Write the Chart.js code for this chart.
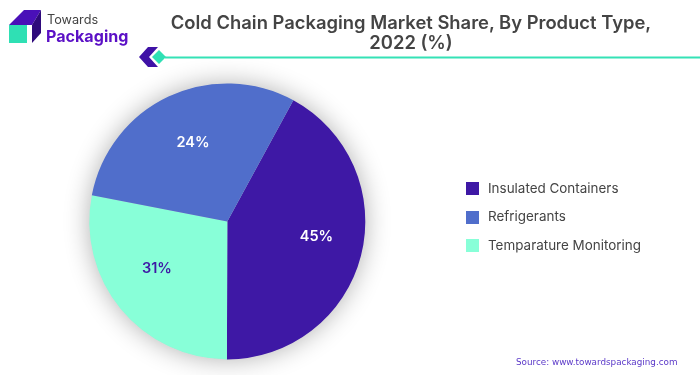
<!DOCTYPE html>
<html>
<head>
<meta charset="utf-8">
<script src="https://cdn.jsdelivr.net/npm/chart.js@4"></script>
<style>
html,body{margin:0;padding:0;background:#fff;width:700px;height:375px;overflow:hidden;font-family:Inter,sans-serif}
#wrap{position:relative;width:700px;height:375px}
canvas{position:absolute;left:0;top:0}
.t{position:absolute;white-space:nowrap}
#title{left:161px;width:500px;top:12px;text-align:center;font-weight:600;font-size:18.4px;line-height:20px;color:#444}
.leg{position:absolute;left:488px;font-size:13.45px;line-height:16px;color:#444;white-space:nowrap}
.sw{position:absolute;left:466px;width:13px;height:13px}
#source{left:516px;top:356px;font-family:"DejaVu Sans",sans-serif;font-size:8.8px;line-height:12px;color:#5a38c8}
#brand1{left:47px;top:12px;font-size:12.7px;line-height:16px;color:#444}
#brand2{left:46px;top:25px;font-size:16.1px;line-height:22px;font-weight:700;color:#5b10c6}
svg{position:absolute;left:0;top:0}
</style>
</head>
<body>
<div id="wrap">
<canvas id="c" width="700" height="375"></canvas>
<svg width="700" height="80" viewBox="0 0 700 80">
  <polygon points="9,25 24,10 41,10 32,25" fill="#4a10b8"/>
  <polygon points="32,25 41,10 41,33 32,43" fill="#2f0a7c"/>
  <rect x="9" y="25" width="18" height="18" fill="#2fe0b4"/>
  <polygon points="139,57 148,47 158,47 149,57 158,67 148,67" fill="#3f12a6"/>
  <polygon points="152,57 159,50 166,57 159,64" fill="#2fe0b4"/>
  <rect x="165" y="56.5" width="535" height="2" fill="#35e2b6"/>
</svg>
<div class="t" id="brand1">Towards</div>
<div class="t" id="brand2">Packaging</div>
<div class="t" id="title">Cold Chain Packaging Market Share, By Product Type,<br>2022 (%)</div>
<div id="legend"></div>
<div class="t" id="source">Source: www.towardspackaging.com</div>
</div>
<script>
// Clockwise drawing order of the slices, starting at the purple slice
const categories = ["Insulated Containers", "Temparature Monitoring", "Refrigerants"];
const sliceShares = [42.1, 28.0, 29.9];
// Percent labels printed on the slices
const printedPercents = [45, 31, 24];
const sliceColors = ["#3e18a5", "#88ffd8", "#506ecb"];
const labelColors = ["#ffffff", "#3e18a5", "#ffffff"];
const labelAngles = [99.5, 236.0, 336.6];
const labelRadii = [0.655, 0.615, 0.625];
const legendOrder = ["Insulated Containers", "Refrigerants", "Temparature Monitoring"];
const legendTops = [182, 210.5, 239];

const legendBox = document.getElementById("legend");
legendOrder.forEach((name, i) => {
  const sw = document.createElement("div");
  sw.className = "sw";
  sw.style.top = legendTops[i] + "px";
  sw.style.background = sliceColors[categories.indexOf(name)];
  legendBox.appendChild(sw);
  const tx = document.createElement("div");
  tx.className = "leg";
  tx.style.top = (legendTops[i] - 2.5) + "px";
  tx.textContent = name;
  legendBox.appendChild(tx);
});

const pieDecor = {
  id: "pieDecor",
  beforeDatasetsDraw(chart) {
    const a = chart.getDatasetMeta(0).data[0];
    const ctx = chart.ctx;
    ctx.save();
    ctx.shadowColor = "rgba(0,0,0,0.32)";
    ctx.shadowBlur = 26;
    ctx.fillStyle = "#ccc";
    ctx.beginPath();
    ctx.arc(a.x, a.y, a.outerRadius - 0.5, 0, Math.PI * 2);
    ctx.fill();
    ctx.restore();
  },
  afterDatasetsDraw(chart) {
    const ctx = chart.ctx;
    const arcs = chart.getDatasetMeta(0).data;
    ctx.save();
    ctx.font = "600 14.5px Inter, sans-serif";
    ctx.textAlign = "center";
    ctx.textBaseline = "middle";
    arcs.forEach((a, i) => {
      const th = labelAngles[i] * Math.PI / 180;
      const r = a.outerRadius * labelRadii[i];
      ctx.fillStyle = labelColors[i];
      ctx.fillText(printedPercents[i] + "%", a.x + r * Math.sin(th), a.y - r * Math.cos(th));
    });
    ctx.restore();
  }
};

new Chart(document.getElementById("c"), {
  type: "pie",
  data: {
    labels: categories,
    datasets: [{ data: sliceShares, backgroundColor: sliceColors, borderWidth: 0 }]
  },
  options: {
    responsive: false,
    animation: false,
    rotation: 28.6,
    layout: { padding: { left: 89.3, right: 334.7, top: 83.3, bottom: 15.5 } },
    plugins: { legend: { display: false }, tooltip: { enabled: false }, title: { display: false } }
  },
  plugins: [pieDecor]
});
</script>
</body>
</html>
